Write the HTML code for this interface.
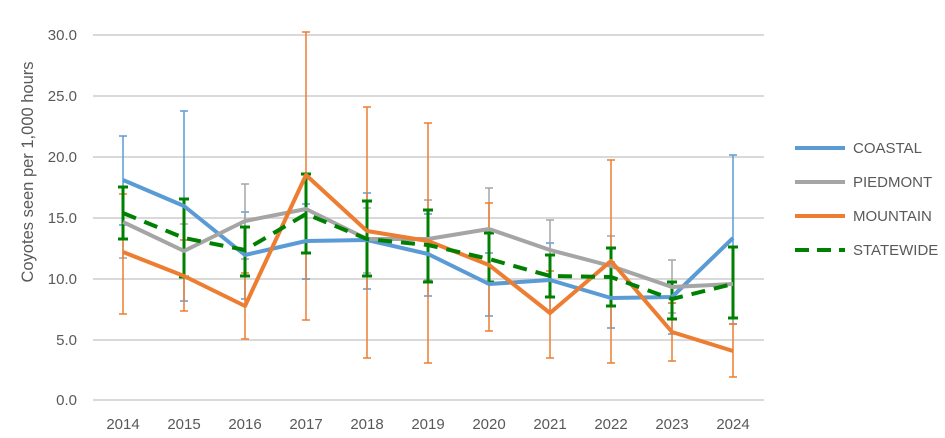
<!DOCTYPE html>
<html><head><meta charset="utf-8"><style>
html,body{margin:0;padding:0;background:#fff;}
svg{display:block;font-family:"Liberation Sans",sans-serif;}
</style></head><body>
<svg width="945" height="438" viewBox="0 0 945 438" xmlns="http://www.w3.org/2000/svg">
<g stroke="#d9d9d9" stroke-width="2">
<line x1="93" y1="35" x2="764" y2="35"/><line x1="93" y1="96" x2="764" y2="96"/>
<line x1="93" y1="157" x2="764" y2="157"/><line x1="93" y1="218" x2="764" y2="218"/>
<line x1="93" y1="279" x2="764" y2="279"/><line x1="93" y1="340" x2="764" y2="340"/>
<line x1="93" y1="400" x2="764" y2="400"/>
</g>
<g fill="#595959" font-size="15" text-anchor="end">
<text x="77" y="40">30.0</text><text x="77" y="101">25.0</text><text x="77" y="162">20.0</text>
<text x="77" y="223">15.0</text><text x="77" y="284">10.0</text><text x="77" y="345">5.0</text><text x="77" y="405">0.0</text>
</g>
<g fill="#595959" font-size="15" text-anchor="middle">
<text x="123" y="429">2014</text><text x="184" y="429">2015</text><text x="245" y="429">2016</text>
<text x="306" y="429">2017</text><text x="367" y="429">2018</text><text x="428" y="429">2019</text>
<text x="489" y="429">2020</text><text x="550" y="429">2021</text><text x="611" y="429">2022</text>
<text x="672" y="429">2023</text><text x="733" y="429">2024</text>
</g>
<text transform="translate(33,172) rotate(-90)" fill="#595959" font-size="16.5" text-anchor="middle">Coyotes seen per 1,000 hours</text>

<!-- error bars -->
<g stroke="#5b9bd5" stroke-width="1.5" fill="none">
<path d="M123 136V225M119 136h8M119 225h8 M184 111V301M180 111h8M180 301h8 M245 212V299M241 212h8M241 299h8 M306 204V279M302 204h8M302 279h8 M367 193V289M363 193h8M363 289h8 M428 214V296M424 214h8M424 296h8 M489 253V316M485 253h8M485 316h8 M550 243V312M546 243h8M546 312h8 M611 262V328M607 262h8M607 328h8 M672 303V334M668 303h8M668 334h8 M733 155V324M729 155h8M729 324h8"/>
</g>
<g stroke="#a5a5a5" stroke-width="1.5" fill="none">
<path d="M123 187V258M119 258h8 M184 224V278M180 224h8 M245 184V259M241 184h8M241 259h8 M367 208V273M363 208h8M363 273h8 M428 200V280M424 200h8M424 280h8 M489 188V273M485 188h8 M550 220V282M546 220h8 M611 236V296M607 236h8 M672 260V313M668 260h8M668 313h8 M733 284V324M729 324h8"/>
</g>
<g stroke="#ed7d31" stroke-width="1.5" fill="none">
<path d="M123 194V314M119 194h8M119 314h8 M184 240V311M180 240h8M180 311h8 M245 273V339M241 273h8M241 339h8 M306 32V320M302 32h8M302 320h8 M367 107V358M363 107h8M363 358h8 M428 123V363M424 123h8M424 363h8 M489 203V331M485 203h8M485 331h8 M550 271V358M546 271h8M546 358h8 M611 160V363M607 160h8M607 363h8 M672 303V361M668 303h8M668 361h8 M733 324V377M729 324h8M729 377h8"/>
</g>
<g stroke="#008000" stroke-width="3" fill="none">
<path d="M123 187V239M118 187h10M118 239h10 M184 199V277M179 199h10M179 277h10 M245 227V276M240 227h10M240 276h10 M306 174V253M301 174h10M301 253h10 M367 201V276M362 201h10M362 276h10 M428 210V282M423 210h10M423 282h10 M489 233V282M484 233h10M484 282h10 M550 255V297M545 255h10M545 297h10 M611 248V306M606 248h10M606 306h10 M672 282V319M667 282h10M667 319h10 M733 247V318M728 247h10M728 318h10"/>
</g>

<!-- series -->
<g fill="none" stroke-width="4" stroke-linejoin="round">
<polyline stroke="#5b9bd5" points="123,180 184,206 245,255 306,241 367,240 428,254 489,284 550,280 611,298 672,297 733,238"/>
<polyline stroke="#a5a5a5" points="123,222 184,251 245,221 306,209 367,239 428,239 489,229 550,250 611,266 672,287 733,284"/>
<polyline stroke="#ed7d31" points="123,252 184,276 245,306 306,175 367,231 428,241 489,265 550,313 611,261 672,332 733,351"/>
<polyline stroke="#008000" stroke-dasharray="14,9" points="123,213 184,238 245,250 306,214 367,239 428,245 489,259 550,276 611,277 672,299 733,284"/>
</g>

<!-- legend -->
<g stroke-width="4">
<line x1="795" y1="148" x2="845" y2="148" stroke="#5b9bd5"/>
<line x1="795" y1="182" x2="845" y2="182" stroke="#a5a5a5"/>
<line x1="795" y1="216" x2="845" y2="216" stroke="#ed7d31"/>
<line x1="795" y1="250" x2="845" y2="250" stroke="#008000" stroke-dasharray="14,8"/>
</g>
<g fill="#595959" font-size="15">
<text x="853" y="153">COASTAL</text><text x="853" y="187">PIEDMONT</text>
<text x="853" y="221">MOUNTAIN</text><text x="853" y="255">STATEWIDE</text>
</g>
</svg>
</body></html>
